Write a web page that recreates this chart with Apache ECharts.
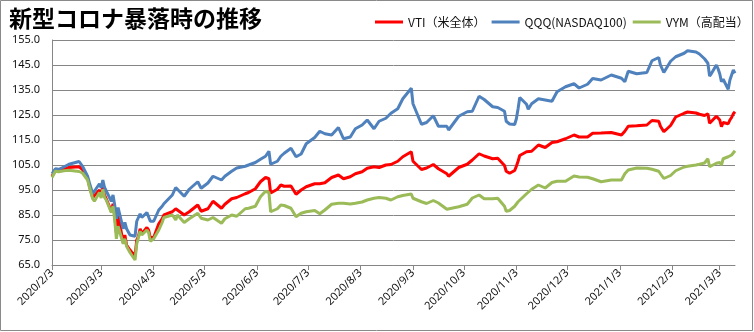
<!DOCTYPE html>
<html>
<head>
<meta charset="utf-8">
<script src="https://cdn.jsdelivr.net/npm/echarts@6/dist/echarts.min.js"></script>
<style>
html,body{margin:0;padding:0;background:#fff;}
#c{width:754px;height:332px;}
</style>
</head>
<body>
<div id="c"></div>
<script>
// ---- data ----
const dates = [
'2020/2/3','2020/2/5','2020/2/7','2020/2/10','2020/2/13','2020/2/19','2020/2/21','2020/2/24','2020/2/25','2020/2/27',
'2020/2/28','2020/3/2','2020/3/3','2020/3/4','2020/3/5','2020/3/6','2020/3/9','2020/3/10','2020/3/11','2020/3/12',
'2020/3/13','2020/3/16','2020/3/17','2020/3/18','2020/3/19','2020/3/20','2020/3/23','2020/3/24','2020/3/25','2020/3/26',
'2020/3/27','2020/3/30','2020/3/31','2020/4/1','2020/4/3','2020/4/6','2020/4/8','2020/4/9','2020/4/14','2020/4/16',
'2020/4/17','2020/4/21','2020/4/24','2020/4/29','2020/5/1','2020/5/5','2020/5/8','2020/5/13','2020/5/15','2020/5/19',
'2020/5/22','2020/5/27','2020/5/29','2020/6/2','2020/6/5','2020/6/8','2020/6/10','2020/6/11','2020/6/15','2020/6/17',
'2020/6/19','2020/6/23','2020/6/26','2020/6/29','2020/7/2','2020/7/7','2020/7/10','2020/7/13','2020/7/17','2020/7/21',
'2020/7/24','2020/7/28','2020/7/31','2020/8/4','2020/8/7','2020/8/11','2020/8/14','2020/8/18','2020/8/21','2020/8/25',
'2020/8/28','2020/9/2','2020/9/3','2020/9/8','2020/9/11','2020/9/15','2020/9/18','2020/9/23','2020/9/24','2020/9/30',
'2020/10/5','2020/10/8','2020/10/12','2020/10/15','2020/10/20','2020/10/23','2020/10/27','2020/10/28','2020/10/30','2020/11/2',
'2020/11/3','2020/11/4','2020/11/5','2020/11/9','2020/11/10','2020/11/12','2020/11/16','2020/11/20','2020/11/24','2020/11/27',
'2020/12/2','2020/12/7','2020/12/10','2020/12/15','2020/12/18','2020/12/23','2020/12/29','2021/1/4','2021/1/6','2021/1/8',
'2021/1/13','2021/1/19','2021/1/22','2021/1/26','2021/1/27','2021/1/29','2021/2/2','2021/2/5','2021/2/10','2021/2/12',
'2021/2/17','2021/2/19','2021/2/22','2021/2/24','2021/2/25','2021/2/26','2021/3/1','2021/3/2','2021/3/3','2021/3/4',
'2021/3/5','2021/3/8','2021/3/9','2021/3/10','2021/3/11','2021/3/12'
];
const vti = [
100.5,102.8,102.7,103.5,104.0,104.3,103.2,99.8,96.8,92.0,
91.5,95.0,92.5,96.3,93.0,91.5,86.5,89.5,85.0,78.0,
85.0,74.0,77.0,73.0,73.5,71.0,68.5,75.0,76.5,79.5,
77.5,80.0,79.0,76.0,76.0,81.5,83.5,85.0,86.3,87.5,
88.0,85.0,86.3,89.0,86.5,87.5,90.5,87.7,89.3,91.5,
92.0,93.5,94.0,95.5,98.3,100.0,99.5,93.8,95.3,97.0,
96.5,96.6,93.3,95.0,96.3,97.5,97.5,97.9,100.0,101.0,
99.5,100.3,101.5,102.3,103.7,104.3,104.0,105.0,105.2,106.5,
108.3,110.3,106.5,103.2,103.8,105.2,103.5,101.5,100.5,104.0,
105.3,107.0,109.5,108.6,107.5,107.7,104.8,102.5,101.7,102.8,
104.5,106.5,108.8,110.3,110.0,110.5,113.0,112.0,114.0,114.3,
115.5,117.0,116.2,116.2,117.7,117.8,118.0,117.0,118.5,120.5,
120.7,121.0,122.8,122.5,120.5,118.3,120.8,124.2,125.7,126.2,
125.8,125.3,124.8,125.5,121.7,122.0,124.5,124.0,123.0,120.3,
122.0,121.5,123.0,124.0,125.5,126.3
];
const qqq = [
101.5,103.5,103.3,104.2,105.3,106.4,104.5,100.5,98.0,93.5,
93.7,97.5,95.8,99.0,96.0,95.5,90.5,93.0,89.0,83.5,
88.0,79.5,82.0,79.5,79.5,77.0,76.5,82.5,83.0,85.5,
84.0,86.0,85.3,82.5,82.5,87.0,88.5,89.5,93.0,96.0,
96.3,92.5,95.3,98.3,95.7,97.8,100.5,99.0,100.5,102.5,
103.8,104.5,105.0,106.0,107.3,108.5,110.5,105.3,106.5,108.5,
109.7,111.7,108.3,109.4,113.5,116.0,118.5,117.5,117.0,120.0,
115.5,116.2,119.5,121.0,123.0,119.5,122.5,123.7,125.7,127.5,
131.5,135.7,129.5,121.3,122.0,124.7,120.5,120.5,119.0,124.5,
126.3,126.5,132.5,131.2,128.3,128.0,126.5,122.5,121.4,121.2,
123.5,127.5,132.0,129.3,127.3,129.5,131.5,131.0,130.5,134.3,
136.3,137.5,135.8,137.3,139.6,139.0,141.0,139.7,138.3,142.5,
141.5,142.0,146.7,148.0,145.0,142.0,146.5,148.3,149.7,150.7,
150.2,149.4,147.5,145.7,140.6,141.5,145.0,143.5,141.5,138.3,
139.3,135.3,139.0,138.5,143.0,141.7
];
const vym = [
100.0,102.5,102.3,102.7,102.9,102.4,101.8,99.0,96.3,91.5,
90.5,94.0,91.8,95.3,92.0,91.0,86.0,88.5,83.0,75.5,
80.5,73.5,75.5,72.5,72.0,70.0,67.0,73.5,76.0,78.5,
77.0,79.0,78.0,74.5,75.5,79.0,82.0,84.0,85.0,83.0,
85.0,82.0,83.5,85.7,83.7,83.0,84.0,81.7,83.5,85.0,
84.5,87.5,87.7,88.5,92.3,94.5,94.0,86.3,87.5,89.0,
88.8,87.7,84.3,85.7,86.3,86.8,85.5,87.0,89.3,89.7,
89.7,89.4,89.7,90.2,91.0,91.7,92.0,91.7,91.0,92.3,
92.8,93.4,91.7,90.3,89.6,90.8,89.8,87.3,86.5,88.3,
89.3,91.8,93.0,91.5,91.5,91.7,88.5,86.5,86.8,88.5,
89.3,90.3,91.0,93.5,94.0,95.3,97.0,95.8,98.0,98.5,
98.5,100.6,100.2,100.1,99.5,98.3,99.0,99.0,101.5,103.0,
103.8,103.7,103.3,102.5,101.5,99.6,100.8,102.7,104.2,104.5,
105.0,105.3,105.8,107.5,104.3,104.8,105.7,105.8,106.0,105.0,
107.5,108.3,108.5,109.0,109.7,110.7
];
const tickDates = ['2020/2/3','2020/3/3','2020/4/3','2020/5/3','2020/6/3','2020/7/3','2020/8/3','2020/9/3','2020/10/3','2020/11/3','2020/12/3','2021/1/3','2021/2/3','2021/3/3'];
const seriesNames = ['VTI（米全体）','QQQ(NASDAQ100)','VYM（高配当）'];
const titleText = '新型コロナ暴落時の推移';
const yMin = 65, yMax = 155, yStep = 10;
const axisStart = '2020/2/3', axisEnd = '2021/3/12';

// ---- build ----
const toTs = s => { const p = s.split('/').map(Number); return new Date(p[0], p[1]-1, p[2]).getTime(); };
const pairs = arr => dates.map((d, i) => [toTs(d), arr[i]]);
const ticks = tickDates.map(toTs);
const fmtDate = v => { const d = new Date(v); return d.getFullYear() + '/' + (d.getMonth()+1) + '/' + d.getDate(); };

const chart = echarts.init(document.getElementById('c'), null, {renderer: 'canvas'});
const colors = ['#FF0000', '#4F81BD', '#9BBB59'];
const font = '"Noto Sans CJK JP", "Noto Sans", sans-serif';
chart.setOption({
  animation: false,
  backgroundColor: '#fff',
  color: colors,
  title: {
    text: titleText, left: 4, top: 2,
    textStyle: {fontSize: 23, fontWeight: 'bold', color: '#000', fontFamily: font}
  },
  legend: {
    left: 370, top: 11, icon: 'rect', itemWidth: 28, itemHeight: 3, itemGap: 6,
    textStyle: {fontSize: 12, color: '#111', fontFamily: font},
    data: seriesNames
  },
  graphic: [{
    type: 'rect', silent: true, z: -10,
    shape: {x: 0.5, y: 0.5, width: 752, height: 330},
    style: {fill: 'none', stroke: '#8a8a8a', lineWidth: 1}
  }],
  grid: {left: 52, right: 19, top: 40, bottom: 67, containLabel: false},
  xAxis: {
    type: 'value',
    min: toTs(axisStart), max: toTs(axisEnd),
    axisLine: {show: true, onZero: false, lineStyle: {color: '#868686', width: 1}},
    axisTick: {show: true, customValues: ticks, length: 5, lineStyle: {color: '#868686'}},
    axisLabel: {customValues: ticks, formatter: fmtDate, rotate: 45, fontSize: 11, color: '#111', fontFamily: '"Noto Sans", sans-serif', margin: 6, showMinLabel: true, showMaxLabel: true},
    splitLine: {show: false}
  },
  yAxis: {
    type: 'value', min: yMin, max: yMax, interval: yStep,
    axisLine: {show: true, lineStyle: {color: '#868686', width: 1}},
    axisTick: {show: false},
    axisLabel: {formatter: v => v.toFixed(1), fontSize: 11, color: '#111', fontFamily: '"Noto Sans", sans-serif', margin: 12},
    splitLine: {show: true, lineStyle: {color: '#868686', width: 1}}
  },
  series: [
    {name: seriesNames[0], type: 'line', data: pairs(vti), showSymbol: false, lineStyle: {width: 3, color: colors[0]}, z: 2},
    {name: seriesNames[1], type: 'line', data: pairs(qqq), showSymbol: false, lineStyle: {width: 3, color: colors[1]}, z: 3},
    {name: seriesNames[2], type: 'line', data: pairs(vym), showSymbol: false, lineStyle: {width: 3, color: colors[2]}, z: 4}
  ]
});
</script>
</body>
</html>
